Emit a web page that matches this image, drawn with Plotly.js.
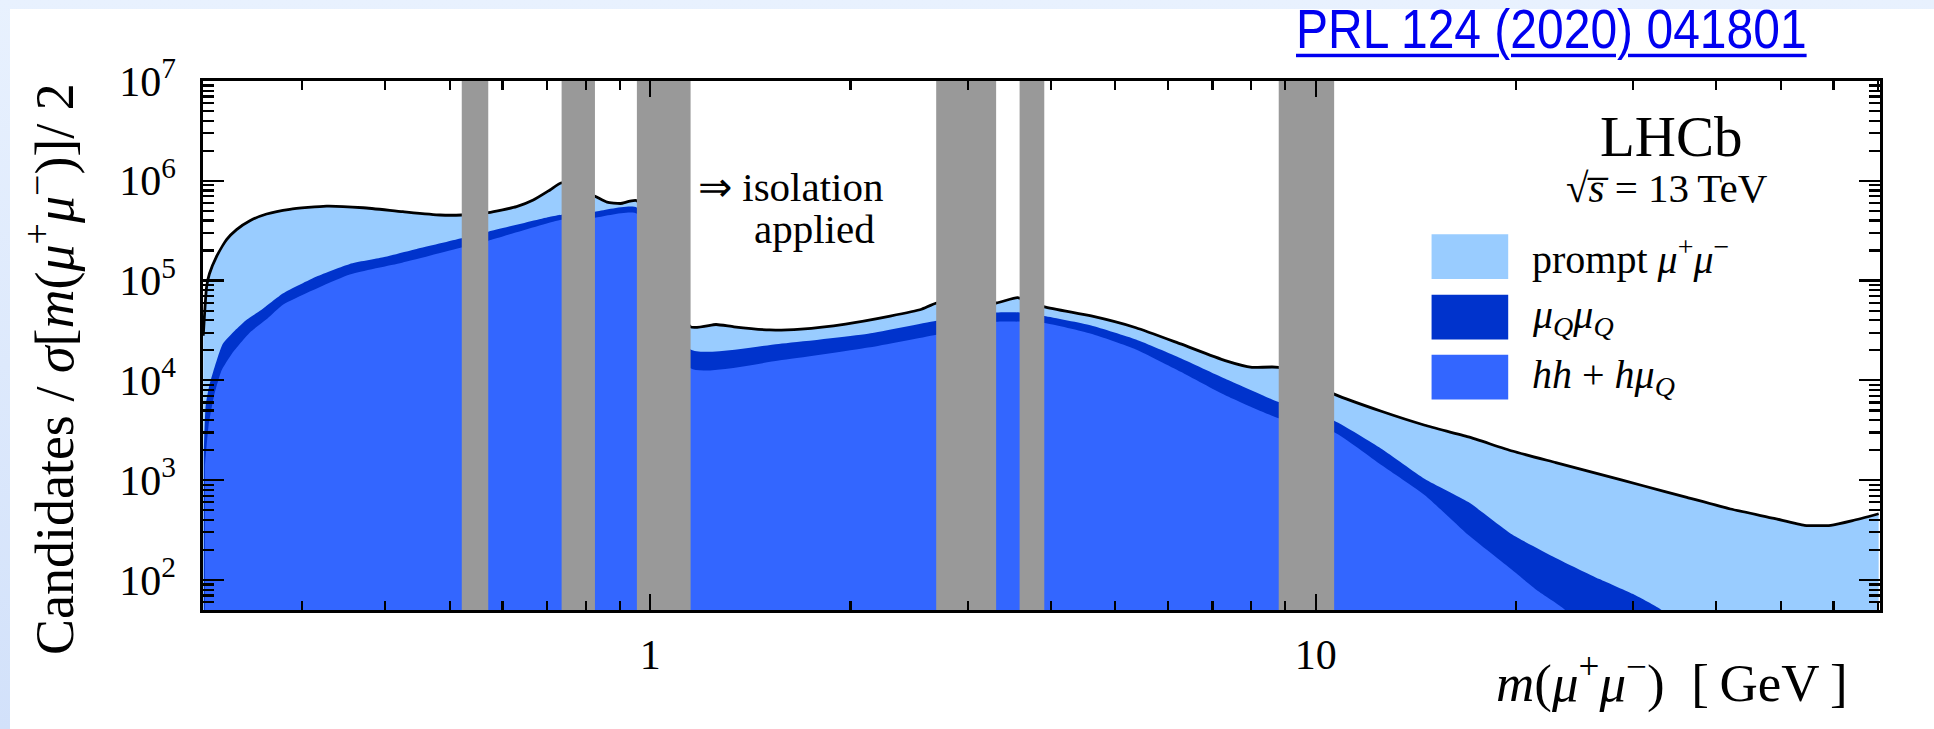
<!DOCTYPE html>
<html>
<head>
<meta charset="utf-8">
<script src="https://cdn.plot.ly/plotly-3.0.1.min.js"></script>
<style>
  html, body { margin: 0; padding: 0; width: 1934px; height: 729px; overflow: hidden;
    background: linear-gradient(to bottom, #e8f1fe, #d2e1fa); }
  #panel { position: absolute; left: 10px; top: 9px; width: 1924px; height: 720px; background: #ffffff; }
  #chart { position: absolute; left: 0; top: 0; width: 1924px; height: 720px; }
  #ref { position: absolute; left: 1286px; top: -1px; font-family: 'Liberation Sans', Arial, sans-serif;
    font-size: 48px; line-height: 48px; color: #0000f0; text-decoration: underline; text-decoration-thickness: 3px;
    text-underline-offset: 5px; white-space: nowrap; transform: scaleY(1.15); transform-origin: 0 40px; }
</style>
</head>
<body>
<div id="panel">
  <div id="chart"></div>
  <a id="ref" href="https://doi.org/10.1103/PhysRevLett.124.041801">PRL 124 (2020) 041801</a>
</div>
<script>
// Dimuon mass spectrum, stacked contributions (upper edge of each stacked layer)
// Upper edge of the full stack: prompt mu+mu- + muQ muQ + (hh + h muQ)
const massTotal = [0.2130, 0.2155, 0.2176, 0.2230, 0.2309, 0.2390, 0.2503, 0.2652, 0.2874, 0.3264,
  0.3704, 0.4249, 0.4831, 0.5206, 0.5709, 0.6298, 0.6672, 0.7070, 0.7357, 0.8260,
  0.8613, 0.9024, 0.9554, 1.150, 1.256, 1.336, 1.512, 1.685, 1.966, 2.294,
  2.557, 2.692, 3.310, 3.565, 3.911, 4.599, 5.370, 6.267, 7.313, 8.023,
  8.798, 10.66, 12.55, 14.59, 16.96, 19.74, 22.95, 26.69, 31.05, 36.12,
  42.01, 48.85, 54.27, 59.43, 64.09, 70.14];
const countsTotal = [2.8e4, 8.7e4, 1.17e5, 1.74e5, 2.57e5, 3.24e5, 3.98e5, 4.65e5, 5.18e5, 5.58e5,
  5.37e5, 4.90e5, 4.54e5, 4.54e5, 4.79e5, 5.50e5, 6.41e5, 8.09e5, 9.55e5, 7.01e5,
  6.11e5, 5.92e5, 6.31e5, 3.44e4, 3.63e4, 3.44e4, 3.20e4, 3.27e4, 3.67e4, 4.41e4,
  5.16e4, 5.94e4, 5.96e4, 6.76e4, 5.46e4, 4.42e4, 3.37e4, 2.32e4, 1.58e4, 1.35e4,
  1.35e4, 7.28e3, 4.90e3, 3.55e3, 2.71e3, 1.96e3, 1.50e3, 1.15e3, 879, 673,
  514, 414, 353, 353, 393, 461];

// Upper edge of muQ muQ stacked on hh + h muQ
const massHeavy = [0.2134, 0.2148, 0.2175, 0.2219, 0.2278, 0.2377, 0.2467, 0.2603, 0.2809, 0.3153,
  0.3537, 0.3970, 0.4456, 0.5206, 0.5709, 0.7070, 0.7357, 0.8260, 0.9554, 1.150,
  1.560, 2.125, 2.692, 3.310, 3.590, 3.911, 4.599, 5.370, 6.267, 7.313,
  8.800, 10.66, 12.55, 14.59, 16.96, 19.74, 22.95, 26.69, 30.13, 32.97, 36.0];
const countsHeavy = [2.0e3, 5.6e3, 8.9e3, 1.41e4, 2.32e4, 3.16e4, 3.98e4, 5.07e4, 7.46e4, 1.10e5,
  1.47e5, 1.71e5, 2.07e5, 2.65e5, 3.09e5, 4.37e5, 4.57e5, 4.90e5, 5.37e5, 2.04e4,
  2.32e4, 2.93e4, 3.95e4, 4.79e4, 4.79e4, 4.41e4, 3.55e4, 2.57e4, 1.67e4, 1.04e4,
  6.07e3, 3.94e3, 2.07e3, 1.03e3, 603, 285, 166, 102, 71, 51, 32];

// hh + h muQ (bottom layer)
const massHadron = [0.2142, 0.2170, 0.2212, 0.2270, 0.2353, 0.2503, 0.2660, 0.2809, 0.3537,
  0.4237, 0.5206, 0.5709, 0.7357, 0.8260, 0.9554, 1.150, 1.560, 2.125, 2.692,
  3.310, 3.911, 4.599, 5.370, 6.267, 7.313, 8.800, 10.66, 12.55, 14.59,
  16.96, 19.74, 21.50, 23.64, 25.0];
const countsHadron = [1.41e3, 3.55e3, 7.1e3, 1.26e4, 1.86e4, 3.02e4, 4.17e4, 5.75e4, 1.15e5,
  1.51e5, 2.14e5, 2.51e5, 4.07e5, 4.27e5, 4.68e5, 1.32e4, 1.58e4, 2.13e4, 2.87e4,
  3.87e4, 3.75e4, 2.93e4, 2.04e4, 1.22e4, 7.1e3, 4.17e3, 3.02e3, 1.42e3, 708,
  282, 126, 79, 51, 32];

// Excluded resonance windows [low, high] in GeV
const vetoLow  = [0.521, 0.736, 0.955, 2.69, 3.59, 8.80];
const vetoHigh = [0.571, 0.826, 1.150, 3.31, 3.91, 10.66];

// Legend entries (top to bottom)
const legendLabels = ['prompt <i>μ</i><sup>+</sup><i>μ</i><sup>−</sup>',
  '<i>μ</i><sub><i>Q</i></sub><i>μ</i><sub><i>Q</i></sub>',
  '<i>hh</i> + <i>hμ</i><sub><i>Q</i></sub>'];

// Axis ticks
const xTickVals = [1, 10];
const xTickText = ['1', '10'];
const yTickVals = [1e2, 1e3, 1e4, 1e5, 1e6, 1e7];
const yTickText = ['10<sup>2</sup>', '10<sup>3</sup>', '10<sup>4</sup>', '10<sup>5</sup>', '10<sup>6</sup>', '10<sup>7</sup>'];

// Styling
const COLORS = { prompt: '#99ccff', heavy: '#0033cc', hadron: '#3366ff', veto: '#999999', line: '#000000' };
const legendColors = [COLORS.prompt, COLORS.heavy, COLORS.hadron];
const FONT = 'Liberation Serif, Times New Roman, serif';
const X_RANGE = [-0.672, 1.848];          // log10(GeV)
const Y_RANGE = [Math.log10(50), 7];      // log10(counts)

function minorLogTicks(dLo, dHi) {
  const v = [];
  for (let d = dLo; d <= dHi; d++) for (let k = 2; k <= 9; k++) v.push(k * Math.pow(10, d));
  return v;
}

function areaTrace(x, y, color) {
  return { x: x, y: y, type: 'scatter', mode: 'lines', fill: 'tozeroy', fillcolor: color,
    line: { width: 0, color: color, shape: 'spline', smoothing: 0.5 }, hoverinfo: 'skip' };
}

const traces = [
  areaTrace(massTotal, countsTotal, COLORS.prompt),
  areaTrace(massHeavy, countsHeavy, COLORS.heavy),
  areaTrace(massHadron, countsHadron, COLORS.hadron),
  { x: massTotal, y: countsTotal, type: 'scatter', mode: 'lines',
    line: { width: 2.8, color: COLORS.line, shape: 'spline', smoothing: 0.5 }, hoverinfo: 'skip' }
];

// Vetoed windows drawn as full-height grey bands above the spectra
const yLo = Math.pow(10, Y_RANGE[0]), yHi = Math.pow(10, Y_RANGE[1]);
vetoLow.forEach((lo, i) => {
  const hi = vetoHigh[i];
  traces.push({ x: [lo, lo, hi, hi, lo], y: [yLo, yHi, yHi, yLo, yLo], type: 'scatter', mode: 'lines',
    fill: 'toself', fillcolor: COLORS.veto, line: { width: 0, color: COLORS.veto }, hoverinfo: 'skip' });
});

const annotations = [
  { text: 'Candidates / <i>σ</i>[<i>m</i>(<i>μ</i><sup>+</sup><i>μ</i><sup>−</sup>)]/ 2', xref: 'paper', yref: 'paper',
    x: -0.0912, y: 1.0, xanchor: 'center', yanchor: 'top', textangle: -90, showarrow: false,
    font: { family: FONT, size: 54, color: '#000' } },
  { text: '<i>m</i>(<i>μ</i><sup>+</sup><i>μ</i><sup>−</sup>)\u00a0\u00a0[\u2009GeV\u2009]', xref: 'paper', yref: 'paper',
    x: 0.9821, y: -0.1323, xanchor: 'right', yanchor: 'middle', showarrow: false,
    font: { family: FONT, size: 53, color: '#000' } },
  { text: 'LHCb', xref: 'paper', yref: 'paper', x: 0.8757, y: 0.8945, xanchor: 'center', yanchor: 'middle',
    showarrow: false, font: { family: FONT, size: 57, color: '#000' } },
  { text: '√<i>s̅</i> = 13\u2009TeV', xref: 'paper', yref: 'paper', x: 0.8727, y: 0.798, xanchor: 'center', yanchor: 'middle',
    showarrow: false, font: { family: FONT, size: 41, color: '#000' } },
  { text: '⇒ isolation', xref: 'paper', yref: 'paper', x: 0.294, y: 0.799, xanchor: 'left', yanchor: 'middle',
    showarrow: false, font: { family: FONT, size: 41, color: '#000' } },
  { text: 'applied', xref: 'paper', yref: 'paper', x: 0.3649, y: 0.7193, xanchor: 'center', yanchor: 'middle',
    showarrow: false, font: { family: FONT, size: 41, color: '#000' } }
];

// Hand-placed legend: colour boxes and labels
const shapes = [];
const legendRowY = [0.668, 0.5536, 0.4402];
const boxHalfH = 0.04225;
legendLabels.forEach((lab, i) => {
  shapes.push({ type: 'rect', xref: 'paper', yref: 'paper', x0: 0.7326, x1: 0.7783,
    y0: legendRowY[i] - boxHalfH, y1: legendRowY[i] + boxHalfH, fillcolor: legendColors[i], line: { width: 0 } });
  annotations.push({ text: lab, xref: 'paper', yref: 'paper', x: 0.7912, y: legendRowY[i], xanchor: 'left',
    yanchor: 'middle', showarrow: false, font: { family: FONT, size: 40, color: '#000' } });
});

const axisCommon = {
  type: 'log', showgrid: false, zeroline: false, showline: true, linecolor: '#000', linewidth: 2.6,
  mirror: 'allticks', ticks: 'inside', tickcolor: '#000', tickwidth: 2.2, tickmode: 'array',
  tickfont: { family: FONT, size: 42, color: '#000' }, layer: 'above traces'
};

const layout = {
  width: 1924, height: 720,
  margin: { l: 193, r: 54, t: 72, b: 119, pad: 0 },
  paper_bgcolor: 'rgba(0,0,0,0)', plot_bgcolor: '#ffffff',
  showlegend: false,
  font: { family: FONT, color: '#000' },
  xaxis: Object.assign({}, axisCommon, {
    range: X_RANGE, tickvals: xTickVals, ticktext: xTickText, ticklen: 16, ticklabelstandoff: 6,
    minor: { ticks: 'inside', ticklen: 9, tickwidth: 2.2, tickcolor: '#000', tickmode: 'array',
      tickvals: minorLogTicks(-1, 1), showgrid: false }
  }),
  yaxis: Object.assign({}, axisCommon, {
    range: Y_RANGE, tickvals: yTickVals, ticktext: yTickText, ticklen: 21, ticklabelstandoff: 16,
    minor: { ticks: 'inside', ticklen: 11, tickwidth: 2.2, tickcolor: '#000', tickmode: 'array',
      tickvals: minorLogTicks(1, 6), showgrid: false }
  }),
  annotations: annotations,
  shapes: shapes
};

Plotly.newPlot('chart', traces, layout, { staticPlot: true, displayModeBar: false });
</script>
</body>
</html>
